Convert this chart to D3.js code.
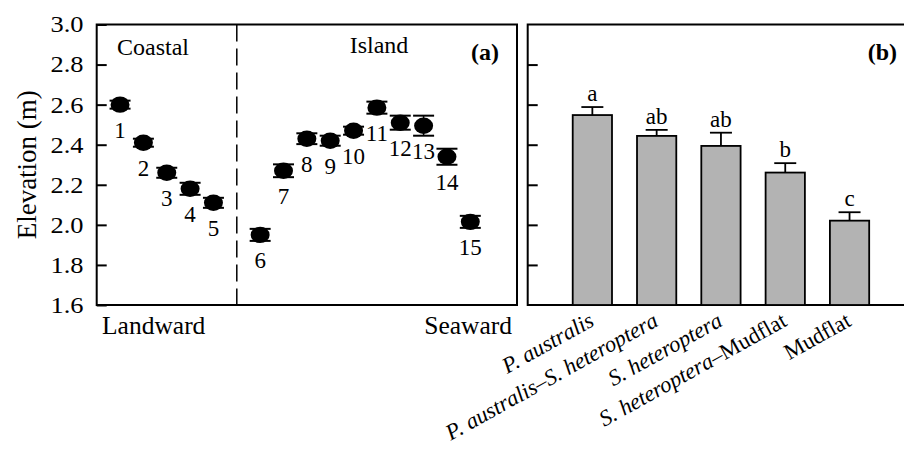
<!DOCTYPE html>
<html lang="en">
<head>
<meta charset="UTF-8">
<title>Elevation along transect and by habitat</title>
<script src="https://cdn.jsdelivr.net/npm/d3@7"></script>
<style>
    body { margin: 0; background: #fff; }
    text { font-family: "Liberation Serif", "Times New Roman", serif; fill: #000; }
</style>
</head>
<body>
<svg id="chart" width="904" height="454"></svg>
<script>
    // panel (a): sampling sites along the transect
    const sites = [1, 2, 3, 4, 5, 6, 7, 8, 9, 10, 11, 12, 13, 14, 15];
    const siteZone = ["Coastal", "Coastal", "Coastal", "Coastal", "Coastal",
        "Island", "Island", "Island", "Island", "Island", "Island", "Island", "Island", "Island", "Island"];
    const siteElev = [2.60, 2.41, 2.26, 2.18, 2.11, 1.95, 2.27, 2.43, 2.42, 2.47, 2.585, 2.51, 2.495, 2.34, 2.015];
    const siteSE = [0.02, 0.02, 0.025, 0.03, 0.025, 0.03, 0.032, 0.027, 0.025, 0.02, 0.03, 0.035, 0.05, 0.04, 0.03];

    // panel (b): habitats
    const habitats = ["P. australis", "P. australis–S. heteroptera", "S. heteroptera", "S. heteroptera–Mudflat", "Mudflat"];
    const habitatElev = [2.548, 2.444, 2.394, 2.261, 2.021];
    const habitatSE = [0.04, 0.03, 0.066, 0.047, 0.042];
    const habitatLetters = ["a", "ab", "ab", "b", "c"];

    const yTicks = [1.6, 1.8, 2.0, 2.2, 2.4, 2.6, 2.8, 3.0];
    const yTicksB = [1.8, 2.0, 2.2, 2.4, 2.6, 2.8];

    const svg = d3.select("#chart");

    const plotTop = 24.5, plotBottom = 305;
    const ax0 = 96.7, ax1 = 517;
    const bx0 = 527.7;

    const y = d3.scaleLinear().domain([1.6, 3.0]).range([plotBottom, plotTop]);

    // site position: coastal sites first, one empty slot, then island sites
    const nCoastal = siteZone.filter(z => z === "Coastal").length;
    const sitePos = sites.map((s, i) => i + 1 + (siteZone[i] === "Island" ? 1 : 0));
    const xa = d3.scaleLinear().domain([0, sites.length + 3]).range([ax0, ax1]);

    // ---------- panel (a) ----------
    const ga = svg.append("g");

    // tick labels are a bit wider than the font, as in the source figure
    ga.append("g")
        .attr("transform", `translate(${ax0},0)`)
        .call(d3.axisLeft(y).tickValues(yTicks).tickSizeInner(-10).tickSizeOuter(0)
            .tickPadding(11.5).tickFormat(d3.format(".1f")))
        .call(g => g.select(".domain").remove())
        .call(g => g.selectAll(".tick line").attr("stroke", "#000").attr("stroke-width", 2))
        .call(g => g.selectAll(".tick text")
            .attr("transform", "scale(1.15,1)")
            .style("font-family", "'Liberation Serif', serif")
            .style("font-size", "23px"));

    ga.append("rect")
        .attr("x", ax0).attr("y", plotTop)
        .attr("width", ax1 - ax0).attr("height", plotBottom - plotTop)
        .attr("fill", "none").attr("stroke", "#000").attr("stroke-width", 2);

    ga.append("line")
        .attr("x1", xa(nCoastal + 1)).attr("x2", xa(nCoastal + 1))
        .attr("y1", plotTop).attr("y2", plotBottom)
        .attr("stroke", "#000").attr("stroke-width", 1.5)
        .attr("stroke-dasharray", "17,7");

    const pts = ga.append("g").selectAll("g")
        .data(sites)
        .join("g")
        .attr("transform", (d, i) => `translate(${xa(sitePos[i])},0)`);

    pts.append("line")
        .attr("y1", (d, i) => y(siteElev[i] + siteSE[i]))
        .attr("y2", (d, i) => y(siteElev[i] - siteSE[i]))
        .attr("stroke", "#000").attr("stroke-width", 1.5);
    pts.selectAll("line.cap")
        .data((d, i) => [siteElev[i] + siteSE[i], siteElev[i] - siteSE[i]])
        .join("line")
        .attr("class", "cap")
        .attr("x1", -10.5).attr("x2", 10.5)
        .attr("y1", v => y(v)).attr("y2", v => y(v))
        .attr("stroke", "#000").attr("stroke-width", 2);
    pts.append("ellipse")
        .attr("cy", (d, i) => y(siteElev[i]))
        .attr("rx", 9.5).attr("ry", 8.2)
        .attr("fill", "#000");
    pts.append("text")
        .attr("y", (d, i) => y(siteElev[i]) + 33)
        .attr("text-anchor", "middle")
        .style("font-size", "23px")
        .text(d => d);

    ga.append("text").attr("x", 153).attr("y", 55).attr("text-anchor", "middle")
        .style("font-size", "24px").text("Coastal");
    ga.append("text").attr("x", 379).attr("y", 53).attr("text-anchor", "middle")
        .style("font-size", "24px").text("Island");
    ga.append("text").attr("x", 499).attr("y", 60).attr("text-anchor", "end")
        .style("font-size", "24px").style("font-weight", "bold").text("(a)");
    ga.append("text").attr("x", 102).attr("y", 334)
        .style("font-size", "25.5px").text("Landward");
    ga.append("text").attr("x", 512).attr("y", 334).attr("text-anchor", "end")
        .style("font-size", "25.5px").text("Seaward");

    svg.append("text")
        .attr("transform", `translate(36,${(plotTop + plotBottom) / 2}) rotate(-90)`)
        .attr("text-anchor", "middle")
        .style("font-size", "27px")
        .text("Elevation (m)");

    // ---------- panel (b) ----------
    const gb = svg.append("g");
    const xb = d3.scaleBand().domain(habitats).range([547.7, 894.2])
        .paddingInner(0.389).paddingOuter(0.389);

    gb.append("g")
        .attr("transform", `translate(${bx0},0)`)
        .call(d3.axisLeft(y).tickValues(yTicksB).tickSizeInner(-10).tickSizeOuter(0).tickFormat(""))
        .call(g => g.select(".domain").remove())
        .call(g => g.selectAll(".tick line").attr("stroke", "#000").attr("stroke-width", 2));

    gb.append("rect")
        .attr("x", bx0).attr("y", plotTop)
        .attr("width", 920 - bx0).attr("height", plotBottom - plotTop)
        .attr("fill", "none").attr("stroke", "#000").attr("stroke-width", 2);

    const bars = gb.append("g").selectAll("g")
        .data(habitats)
        .join("g")
        .attr("transform", d => `translate(${xb(d)},0)`);

    bars.append("line")
        .attr("x1", xb.bandwidth() / 2).attr("x2", xb.bandwidth() / 2)
        .attr("y1", (d, i) => y(habitatElev[i]))
        .attr("y2", (d, i) => y(habitatElev[i] + habitatSE[i]))
        .attr("stroke", "#000").attr("stroke-width", 1.8);
    bars.append("line")
        .attr("x1", xb.bandwidth() / 2 - 11).attr("x2", xb.bandwidth() / 2 + 11)
        .attr("y1", (d, i) => y(habitatElev[i] + habitatSE[i]))
        .attr("y2", (d, i) => y(habitatElev[i] + habitatSE[i]))
        .attr("stroke", "#000").attr("stroke-width", 1.8);
    bars.append("rect")
        .attr("y", (d, i) => y(habitatElev[i]))
        .attr("width", xb.bandwidth())
        .attr("height", (d, i) => y(1.6) - y(habitatElev[i]))
        .attr("fill", "#b3b3b3").attr("stroke", "#000").attr("stroke-width", 1.8);
    bars.append("text")
        .attr("x", xb.bandwidth() / 2)
        .attr("y", (d, i) => y(habitatElev[i] + habitatSE[i]) - 6)
        .attr("text-anchor", "middle")
        .style("font-size", "23px")
        .text((d, i) => habitatLetters[i]);

    gb.append("text").attr("x", 897).attr("y", 60).attr("text-anchor", "end")
        .style("font-size", "24px").style("font-weight", "bold").text("(b)");

    // rotated category labels, species names in italics
    const catLabels = gb.append("g").selectAll("text")
        .data(habitats)
        .join("text")
        .attr("text-anchor", "end")
        .attr("transform", d => `translate(${xb(d) + xb.bandwidth() / 2 + 3},325) rotate(-29)`)
        .style("font-size", "22.5px");
    catLabels.each(function (d) {
        const t = d3.select(this);
        d.split("–").forEach((part, k) => {
            if (k > 0) t.append("tspan").text("–");
            t.append("tspan")
                .style("font-style", part === "Mudflat" ? "normal" : "italic")
                .text(part);
        });
    });
</script>
</body>
</html>
